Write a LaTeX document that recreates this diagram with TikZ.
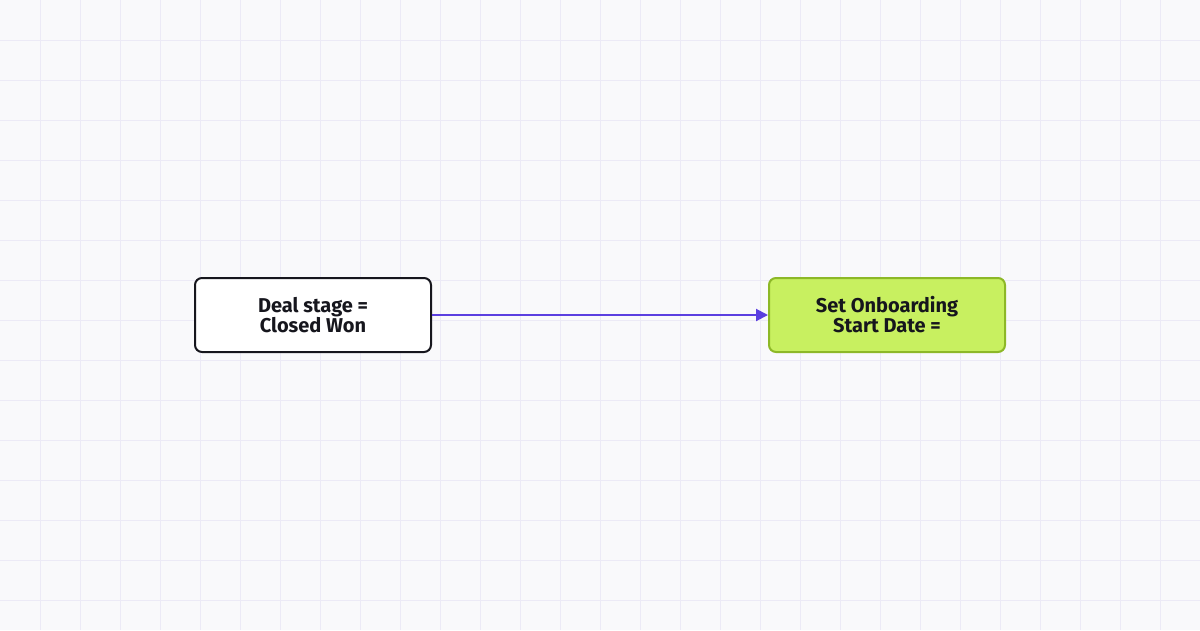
\documentclass[tikz,border=0pt]{standalone}
\usepackage{fontspec}
\setsansfont{Fira Sans}
\usetikzlibrary{arrows.meta}
\definecolor{bgcol}{HTML}{F9F9FB}
\definecolor{gridcol}{HTML}{ECEAF6}
\definecolor{arrowcol}{HTML}{5B3FE0}
\definecolor{greenfill}{HTML}{C8F060}
\definecolor{greendraw}{HTML}{8DB827}
\definecolor{inkcol}{HTML}{16161D}
\tikzset{
  trigger/.style={draw=inkcol, line width=2pt, rounded corners=7pt, fill=white,
    minimum width=236pt, minimum height=74pt, align=center, text=inkcol,
    font=\sffamily\bfseries\fontsize{20}{20}\selectfont},
  action/.style={trigger, draw=greendraw, fill=greenfill}
}
\begin{document}
\begin{tikzpicture}[x=1pt,y=-1pt]
\fill[bgcol] (0,0) rectangle (1200,630);
\useasboundingbox (0,0) rectangle (1200,630);
\foreach \i in {40,80,...,1160} \draw[gridcol, line width=1pt] (\i,0) -- (\i,630);
\foreach \j in {40,80,...,600} \draw[gridcol, line width=1pt] (0,\j) -- (1200,\j);
\node[trigger](deal) at (313,315){Deal stage =\\Closed Won};
\node[action](onb) at (887,315){Set Onboarding\\Start Date =};
\draw[arrowcol, line width=2pt, -{Triangle[length=12pt,width=12pt]}] (deal) -- (onb);
\end{tikzpicture}
\end{document}
